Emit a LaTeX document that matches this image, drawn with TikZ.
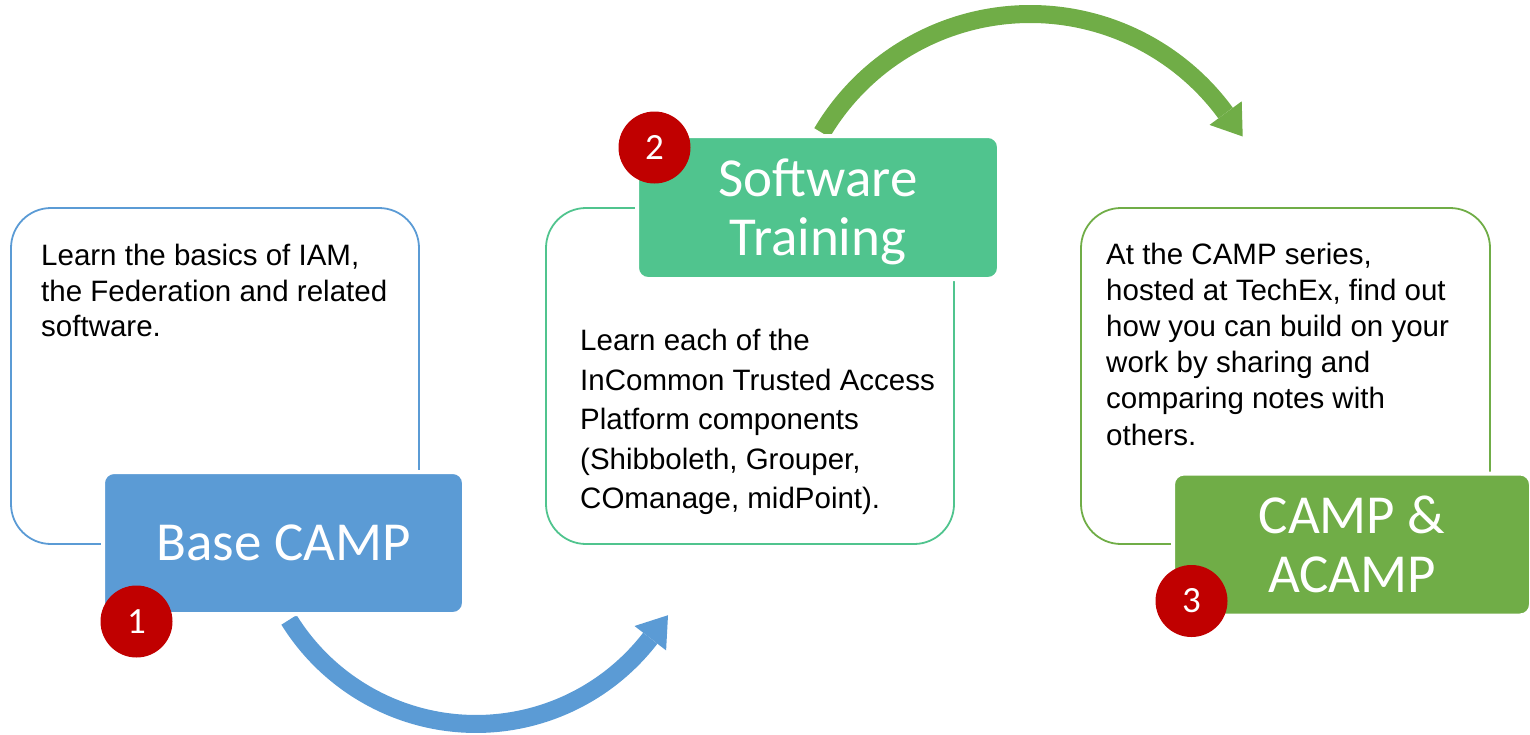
\documentclass[tikz,border=0pt]{standalone}
\usepackage{fontspec}
\setmainfont{Liberation Sans}
\newfontfamily\titlefont{Carlito}

\definecolor{campblue}{HTML}{5B9BD5}
\definecolor{trainteal}{HTML}{50C48E}
\definecolor{campgreen}{HTML}{70AD47}
\definecolor{stepred}{HTML}{C00000}

\begin{document}
\begin{tikzpicture}[x=1pt,y=-1pt,
  outline/.style={draw=#1, line width=1.8pt, rounded corners=40pt,
    minimum width=408pt, minimum height=336pt, inner sep=0pt},
  titlebox/.style={fill=#1, draw=white, line width=4pt, rounded corners=11pt,
    inner sep=0pt, text=white, align=center,
    font=\titlefont\fontsize{55}{59}\selectfont},
  titletext/.style={text=white, align=center, inner sep=0pt,
    font=\titlefont\fontsize{55}{59}\selectfont},
  body/.style={anchor=north west, inner sep=0pt, align=left,
    font=\fontsize{29.5}{#1}\selectfont},
  badge/.style={circle, fill=stepred, minimum size=72pt, inner sep=0pt,
    text=white, font=\titlefont\fontsize{37}{37}\selectfont},
  shaft/.style={draw=#1, line width=18pt},
]
\useasboundingbox (0,0) rectangle (1530,734);

% outlined description panels
\node[outline=campblue]  (p1) at (215,376) {};
\node[outline=trainteal] (p2) at (750,376) {};
\node[outline=campgreen, minimum width=409pt] (p3) at (1285.5,376) {};

% curved arrows between the stages
\coordinate (bs) at (289,619.9);
\coordinate (bt) at (668,615.2);
\draw[shaft=campblue] (bs) arc[start angle=148.2, end angle=37.6, radius=220];
\fill[campblue] (bt) -- (666.1,650.4) -- (634.5,626.0) -- cycle;

\coordinate (gs) at (822.0,132.8);
\coordinate (gt) at (1242.7,136.5);
\draw[shaft=campgreen] (gs) arc[start angle=-149.4, end angle=-36.2, radius=242];
\fill[campgreen] (gt) -- (1241.7,101.3) -- (1209.5,124.9) -- cycle;

% stage title boxes
\node[titlebox=campblue, minimum width=361pt, minimum height=142pt] (s1) at (283.5,543)
  {\raisebox{-2pt}{Base CAMP}};
\node[titlebox=trainteal, minimum width=362pt, minimum height=143pt] (s2) at (818,207.5) {};
\node[titletext] (s2t) at (818,212) {Software\\Training};
\node[titlebox=campgreen, minimum width=358pt, minimum height=142pt] (s3) at (1352,544.5)
  {CAMP \&\\ACAMP};

% numbered badges
\node[badge] (n1) at (136.5,621.5) {1};
\node[badge] (n2) at (654.5,147.5) {2};
\node[badge] (n3) at (1191.5,601) {3};

% descriptions
\node[body=35.5] (t1) at (41,244) {Learn the basics of IAM,\\the Federation and related\\software.};
\node[body=39.6] (t2) at (580,329) {Learn each of the\\InCommon Trusted Access\\Platform components\\(Shibboleth, Grouper,\\COmanage, midPoint).};
\node[body=36.2] (t3) at (1106,242.5) {At the CAMP series,\\hosted at TechEx, find out\\how you can build on your\\work by sharing and\\comparing notes with\\others.};
\end{tikzpicture}
\end{document}
